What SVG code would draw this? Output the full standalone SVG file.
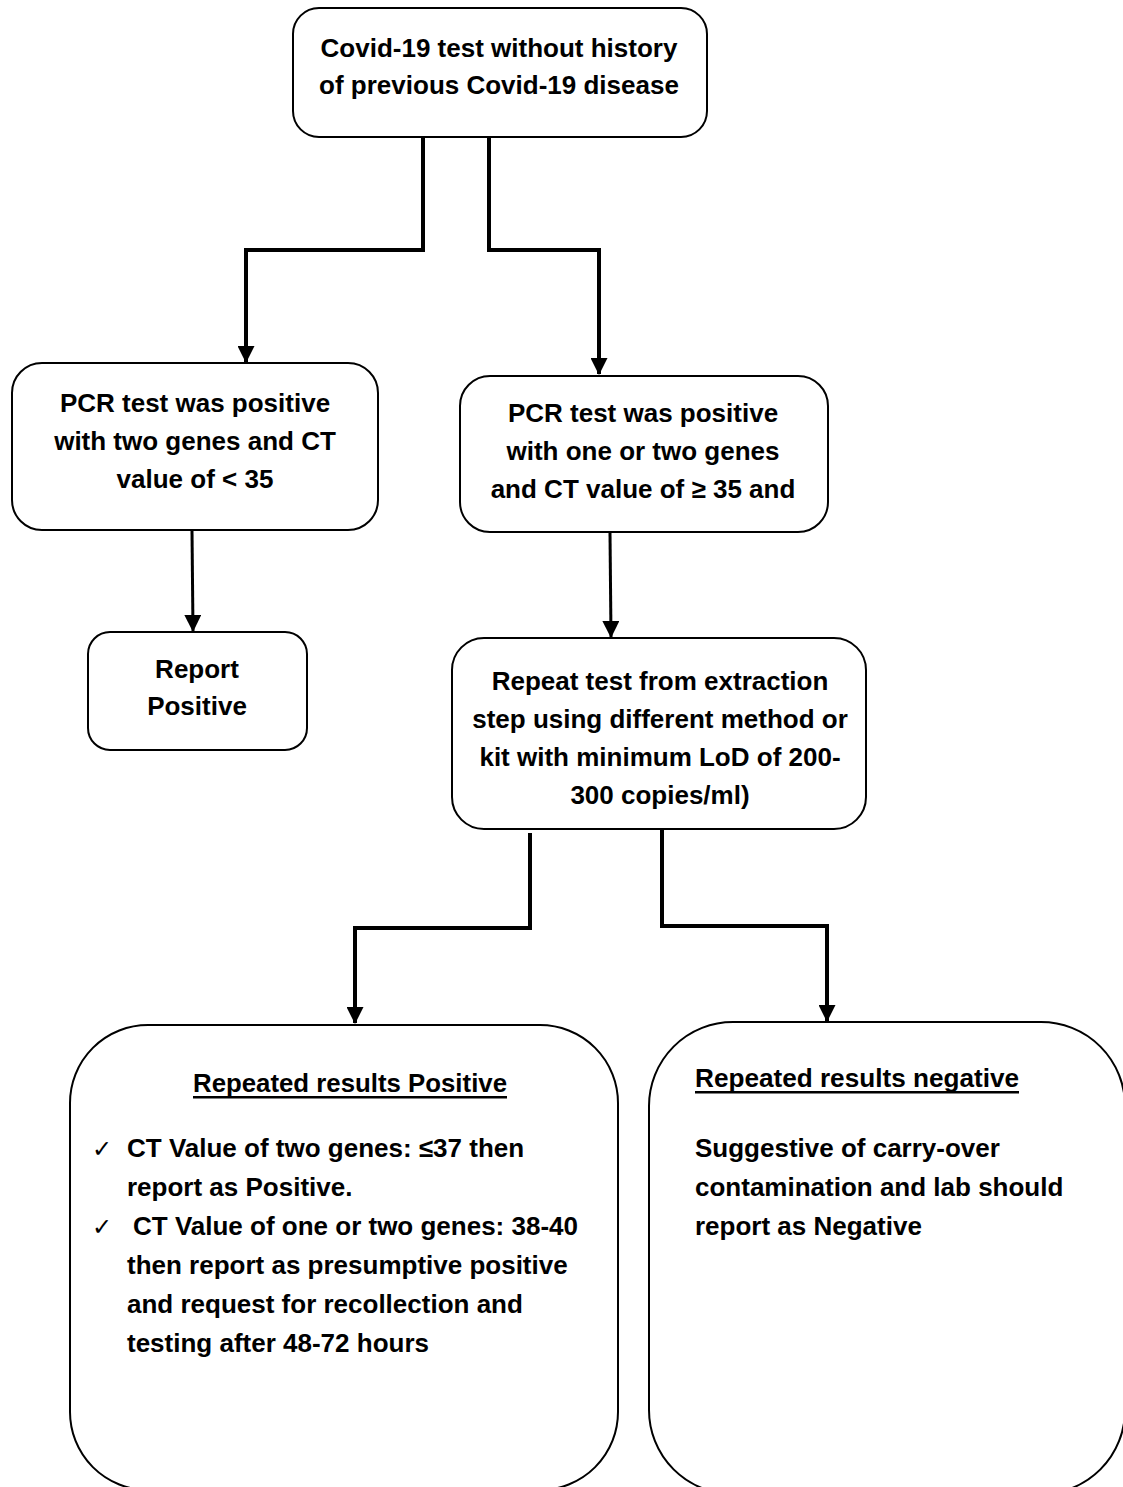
<svg xmlns="http://www.w3.org/2000/svg" width="1123" height="1487" viewBox="0 0 1123 1487">
<style>
.box{fill:#fff;stroke:#000;stroke-width:2}
.t{font-family:"Liberation Sans",Arial,sans-serif;font-weight:bold;font-size:26px;fill:#000}
.c{text-anchor:middle}
.conn{fill:none;stroke:#000;stroke-width:4}
.thin{fill:none;stroke:#000;stroke-width:3}
.chk{font-family:"DejaVu Sans",sans-serif;font-size:24px;fill:#000}
</style>
<defs>
<marker id="arr" markerUnits="userSpaceOnUse" markerWidth="17" markerHeight="17" refX="16" refY="8.5" orient="auto">
<path d="M0,0 L17,8.5 L0,17 z" fill="#000"/>
</marker>
</defs>
<rect width="1123" height="1487" fill="#fff"/>
<g id="connectors">
<path class="conn" d="M423,138 V250 H246 V362" marker-end="url(#arr)"/>
<path class="conn" d="M489,138 V250 H599 V374" marker-end="url(#arr)"/>
<path class="thin" d="M192,531 L193,631" marker-end="url(#arr)"/>
<path class="thin" d="M610,533 L611,637" marker-end="url(#arr)"/>
<path class="conn" d="M530,833 V928 H355 V1023" marker-end="url(#arr)"/>
<path class="conn" d="M662,830 V926 H827 V1021" marker-end="url(#arr)"/>
</g>
<g id="n1">
<rect class="box" x="293" y="8" width="414" height="129" rx="26"/>
<text class="t c" x="499" y="57">Covid-19 test without history</text>
<text class="t c" x="499" y="94">of previous Covid-19 disease</text>
</g>
<g id="n2">
<rect class="box" x="12" y="363" width="366" height="167" rx="30"/>
<text class="t c" x="195" y="412">PCR test was positive</text>
<text class="t c" x="195" y="450">with two genes and CT</text>
<text class="t c" x="195" y="488">value of &lt; 35</text>
</g>
<g id="n3">
<rect class="box" x="460" y="376" width="368" height="156" rx="30"/>
<text class="t c" x="643" y="422">PCR test was positive</text>
<text class="t c" x="643" y="460">with one or two genes</text>
<text class="t c" x="643" y="498">and CT value of ≥ 35 and</text>
</g>
<g id="n4">
<rect class="box" x="88" y="632" width="219" height="118" rx="22"/>
<text class="t c" x="197" y="678">Report</text>
<text class="t c" x="197" y="715">Positive</text>
</g>
<g id="n5">
<rect class="box" x="452" y="638" width="414" height="191" rx="32"/>
<text class="t c" x="660" y="690">Repeat test from extraction</text>
<text class="t c" x="660" y="728">step using different method or</text>
<text class="t c" x="660" y="766">kit with minimum LoD of 200-</text>
<text class="t c" x="660" y="804">300 copies/ml)</text>
</g>
<g id="n6">
<rect class="box" x="70" y="1025" width="548" height="465" rx="78"/>
<text class="t" x="193" y="1092" textLength="314" lengthAdjust="spacingAndGlyphs">Repeated results Positive</text>
<rect x="193" y="1096" width="314" height="2.5" fill="#000"/>
<text class="chk" x="92" y="1157">✓</text>
<text class="t" x="127" y="1157">CT Value of two genes:  ≤37  then</text>
<text class="t" x="127" y="1196">report as Positive.</text>
<text class="chk" x="92" y="1235">✓</text>
<text class="t" x="133" y="1235">CT Value of one or two genes: 38-40</text>
<text class="t" x="127" y="1274">then report as presumptive positive</text>
<text class="t" x="127" y="1313">and request for recollection and</text>
<text class="t" x="127" y="1352">testing after 48-72 hours</text>
</g>
<g id="n7">
<rect class="box" x="649" y="1022" width="476" height="472" rx="84"/>
<text class="t" x="695" y="1087" textLength="324" lengthAdjust="spacingAndGlyphs">Repeated results negative</text>
<rect x="695" y="1091" width="324" height="2.5" fill="#000"/>
<text class="t" x="695" y="1157">Suggestive of carry-over</text>
<text class="t" x="695" y="1196">contamination and lab should</text>
<text class="t" x="695" y="1235">report as Negative</text>
</g>
</svg>
